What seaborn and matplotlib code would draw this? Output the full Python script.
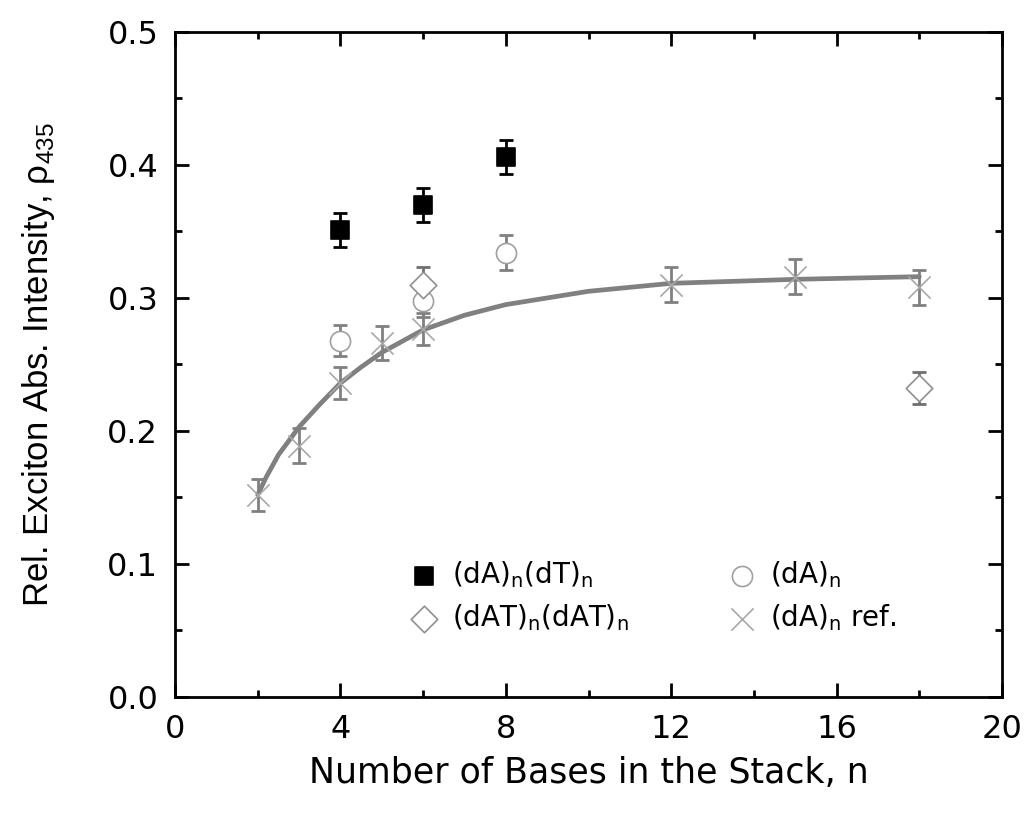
import matplotlib
matplotlib.use("Agg")
import matplotlib.pyplot as plt
import pandas as pd
import seaborn as sns
from matplotlib.ticker import FormatStrFormatter, MultipleLocator

# (dA)n(dT)n
n_at = [4, 6, 8]
rho_at = [0.351, 0.370, 0.406]
err_at = [0.013, 0.013, 0.013]

# (dA)n
n_a = [4, 6, 8]
rho_a = [0.268, 0.298, 0.334]
err_a = [0.012, 0.012, 0.013]

# (dAT)n(dAT)n
n_dat = [6, 18]
rho_dat = [0.310, 0.232]
err_dat = [0.013, 0.012]

# (dA)n reference
n_ref = [2, 3, 4, 5, 6, 12, 15, 18]
rho_ref = [0.152, 0.189, 0.236, 0.266, 0.277, 0.310, 0.316, 0.308]
err_ref = [0.012, 0.013, 0.012, 0.013, 0.012, 0.013, 0.013, 0.013]

# fitted curve
fit_n = [2, 2.2, 2.5, 3, 3.5, 4, 4.5, 5, 6, 7, 8, 10, 12, 15, 18]
fit_rho = [0.152, 0.165, 0.182, 0.203, 0.220, 0.236, 0.248, 0.259, 0.276,
           0.287, 0.295, 0.305, 0.311, 0.314, 0.316]

sns.set_style("ticks")
plt.rcParams["font.family"] = ["DejaVu Sans"]
plt.rcParams["mathtext.fontset"] = "custom"
plt.rcParams["mathtext.rm"] = "DejaVu Sans"
plt.rcParams["text.color"] = "black"
plt.rcParams["axes.labelcolor"] = "black"
plt.rcParams["xtick.color"] = "black"
plt.rcParams["ytick.color"] = "black"

fig = plt.figure(figsize=(10.26, 8.19), dpi=100)
ax = fig.add_axes([0.1706, 0.149, 0.806, 0.812])

fit_df = pd.DataFrame({"n": fit_n, "rho": fit_rho})
sns.lineplot(data=fit_df, x="n", y="rho", color="#808080", lw=3.4, ax=ax,
             zorder=2, legend=False)

series = [
    (n_at, rho_at, err_at, "s", "black", "black", "black",
     r"(dA)$_\mathrm{n}$(dT)$_\mathrm{n}$", 12.5),
    (n_a, rho_a, err_a, "o", "white", "#a0a0a0", "#808080",
     r"(dA)$_\mathrm{n}$", 14.5),
    (n_dat, rho_dat, err_dat, "D", "white", "#909090", "#707070",
     r"(dAT)$_\mathrm{n}$(dAT)$_\mathrm{n}$", 13.5),
    (n_ref, rho_ref, err_ref, "x", "#a8a8a8", "#a8a8a8", "#808080",
     r"(dA)$_\mathrm{n}$ ref.", 16),
]

for xs, ys, es, mk, fc, ec, ecol, lab, ms in series:
    ax.errorbar(xs, ys, yerr=es, fmt="none", ecolor=ecol, elinewidth=2,
                capsize=5, capthick=2, zorder=3)
    df = pd.DataFrame({"n": xs, "rho": ys})
    if mk == "x":
        sns.scatterplot(data=df, x="n", y="rho", marker="x", s=ms ** 2,
                        color=fc, linewidth=1.2, ax=ax, zorder=4, label=lab)
    else:
        sns.scatterplot(data=df, x="n", y="rho", marker=mk, s=ms ** 2,
                        facecolor=fc, edgecolor=ec, linewidth=1.2, ax=ax,
                        zorder=4, label=lab)

ax.set_xlim(0, 20)
ax.set_ylim(0, 0.5)
ax.xaxis.set_major_locator(MultipleLocator(4))
ax.xaxis.set_minor_locator(MultipleLocator(2))
ax.yaxis.set_major_locator(MultipleLocator(0.1))
ax.yaxis.set_minor_locator(MultipleLocator(0.05))
ax.yaxis.set_major_formatter(FormatStrFormatter("%.1f"))
ax.tick_params(which="both", direction="in", top=True, right=True,
               width=2, labelsize=23, pad=12)
ax.tick_params(which="major", length=10)
ax.tick_params(which="minor", length=5)
for sp in ax.spines.values():
    sp.set_linewidth(2)
    sp.set_color("black")

ax.set_xlabel("Number of Bases in the Stack, n", fontsize=25, labelpad=8)
ax.set_ylabel(r"Rel. Exciton Abs. Intensity, ρ$_\mathregular{435}$",
              fontsize=25, labelpad=36, family="Liberation Sans")

handles, labels = ax.get_legend_handles_labels()
order = [0, 2, 1, 3]
ax.legend([handles[i] for i in order], [labels[i] for i in order],
          ncol=2, loc="upper left", bbox_to_anchor=(0.284, 0.207),
          borderpad=0, borderaxespad=0, frameon=False, fontsize=20,
          handlelength=1.0, handletextpad=0.5, columnspacing=3.6,
          labelspacing=0.45)

fig.savefig("out.png", dpi=100)
